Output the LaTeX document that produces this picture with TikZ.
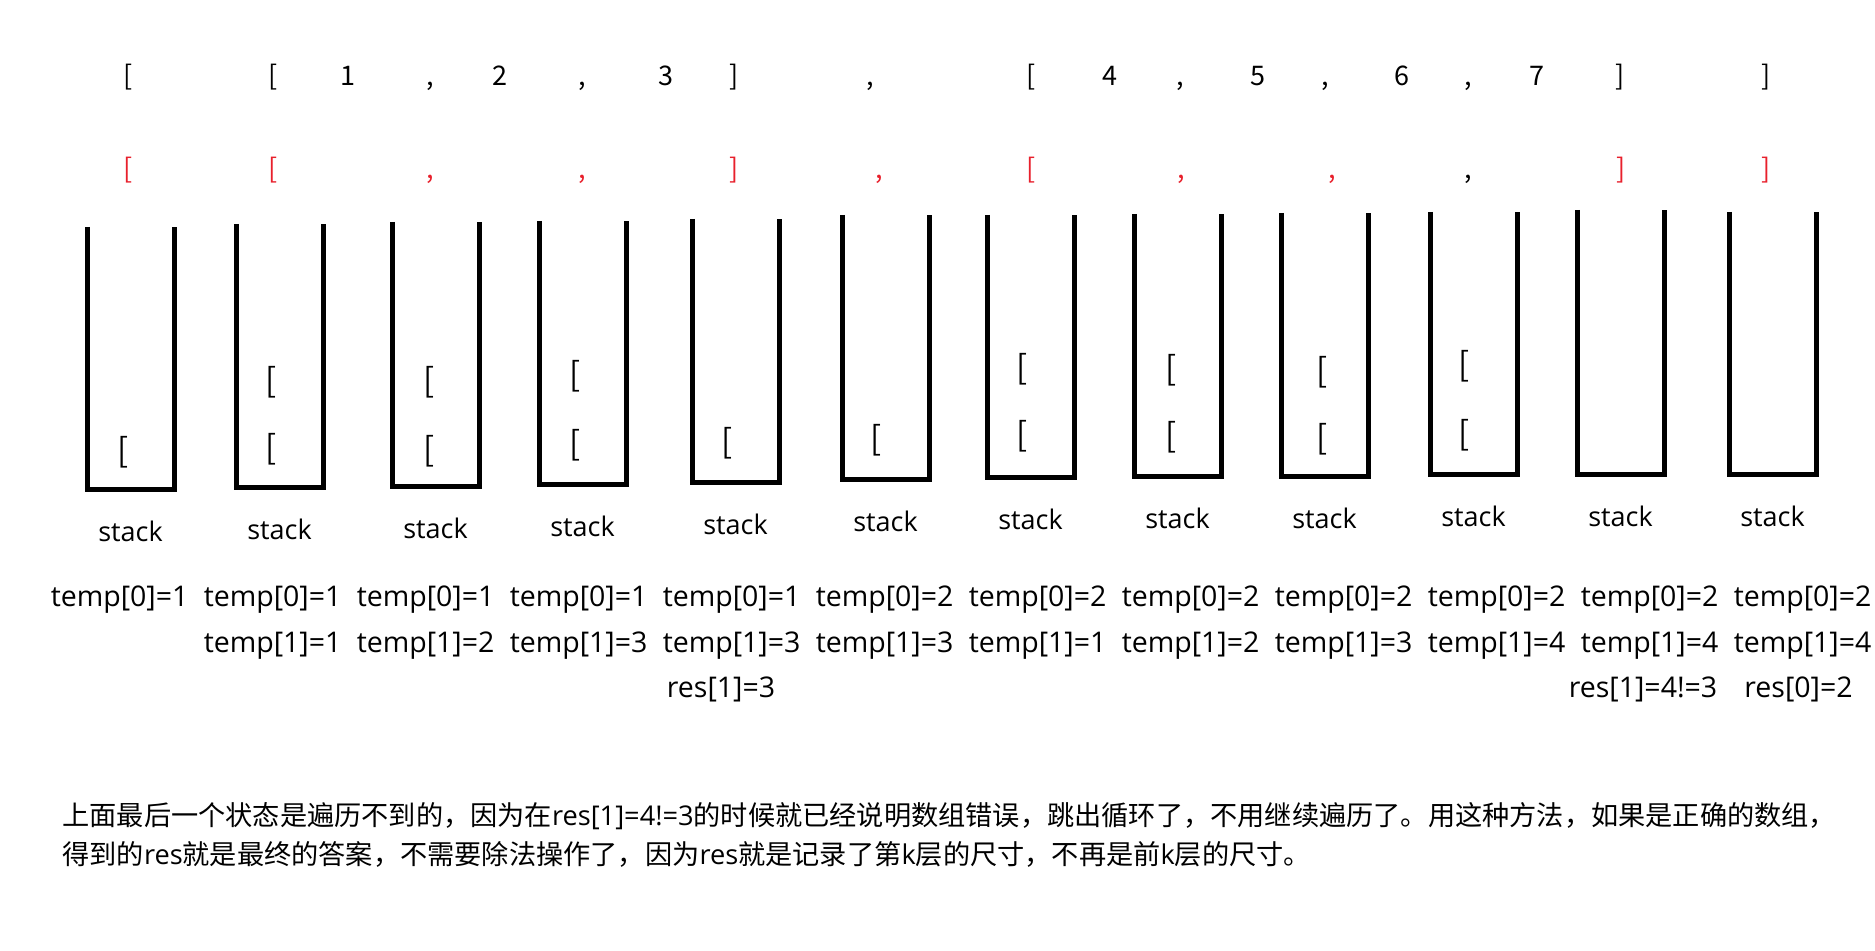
\documentclass[tikz,border=0pt]{standalone}
\usepackage{fontspec}
\setmainfont{Open Sans}
\newfontfamily\cjk{Noto Sans CJK SC}
\usepackage{xcolor}
\usepackage{tikz}
\usetikzlibrary{positioning}

\definecolor{markred}{RGB}{232,32,44}
\newcommand\tkl{[}
\newcommand\tkr{]}
\newcommand\tkc{,}

\begin{document}
\begin{tikzpicture}[
  x=0.5pt, y=-0.5pt,
  tok/.style={anchor=base, inner sep=0pt, font=\cjk\fontsize{13.5}{16}\selectfont},
  wall/.style={line width=2.5pt, line join=miter},
  item/.style={inner sep=0pt, font=\cjk\fontsize{16.5}{20}\selectfont},
  lbl/.style={anchor=base, inner sep=0pt, font=\fontsize{13.5}{16}\selectfont},
  var/.style={lbl, font=\fontsize{14.25}{17}\selectfont},
  note/.style={anchor=base west, inner sep=0pt, font=\fontsize{13.6}{16}\selectfont}
]
\useasboundingbox (0,0) rectangle (1875,951);

\foreach \x/\t [count=\i] in {128/\tkl, 272.6/\tkl, 348/1, 430.5/\tkc, 499.8/2, 582.4/\tkc,
    666/3, 734.2/\tkr, 870.5/\tkc, 1030.8/\tkl, 1109.7/4, 1180.3/\tkc, 1258/5, 1325/\tkc,
    1401.5/6, 1468.4/\tkc, 1536.6/7, 1620.3/\tkr, 1766.2/\tkr}
  \node[tok] (in\i) at (\x,86) {\t};

\foreach \x/\t/\c [count=\i] in {128/\tkl/markred, 272.6/\tkl/markred, 430.5/\tkc/markred,
    582.4/\tkc/markred, 734.2/\tkr/markred, 878.9/\tkc/markred, 1030.8/\tkl/markred,
    1181.5/\tkc/markred, 1332.1/\tkc/markred, 1468.4/\tkc/black, 1621.5/\tkr/markred,
    1766.2/\tkr/markred}
  \node[tok, text=\c] (sc\i) at (\x,179) {\t};

\foreach \l/\t/\b [count=\i] in {87/227/490, 236/224/488, 392/222/487, 539/221/485,
    692/219/483, 842/215/480, 987/215/478, 1134/214/477, 1281/213/477, 1430/212/475,
    1577/210/475, 1729/212/475} {
  \draw[wall] (\l,\t) -- (\l,\b) -- (\l+87,\b) -- (\l+87,\t);
  \coordinate (s\i) at (\l+43.5,\b);
  \node[lbl] (st\i) at (\l+43.5,\b+52) {stack};
}

\foreach \x/\y [count=\i] in {123/452, 271.5/382.6, 271.5/449.6, 429/382.6, 429/450.8,
    575/376.7, 575/444.8, 727/443.6, 876.5/440, 1022.4/369.5, 1022.4/436.5,
    1170.7/370.7, 1170.7/437.7, 1322.5/371.9, 1322.5/438.9, 1463.7/365.9, 1463.7/435.3}
  \node[item] (it\i) at (\x,\y) {[};

\foreach \v [count=\i] in {1,1,1,1,1,2,2,2,2,2,2,2}
  \node[var] (ta\i) at ({119.6+153*(\i-1)},607) {temp[0]=\v};
\foreach \v [count=\i from 2] in {1,2,3,3,3,1,2,3,4,4,4}
  \node[var] (tb\i) at ({119.6+153*(\i-1)},653) {temp[1]=\v};

\node[var] (res5) at (721,698) {res[1]=3};
\node[var] (res11) at (1643,698) {res[1]=4!=3};
\node[var] (res12) at (1798.5,698) {res[0]=2};

\node[note] (note1) at (62,826) {{\cjk 上面最后一个状态是遍历不到的，因为在}res[1]=4!=3{\cjk 的时候就已经说明数组错误，跳出循环了，不用继续遍历了。用这种方法，如果是正确的数组，}};
\node[note] (note2) at (62,864) {{\cjk 得到的}res{\cjk 就是最终的答案，不需要除法操作了，因为}res{\cjk 就是记录了第}k{\cjk 层的尺寸，不再是前}k{\cjk 层的尺寸。}};
\end{tikzpicture}
\end{document}
